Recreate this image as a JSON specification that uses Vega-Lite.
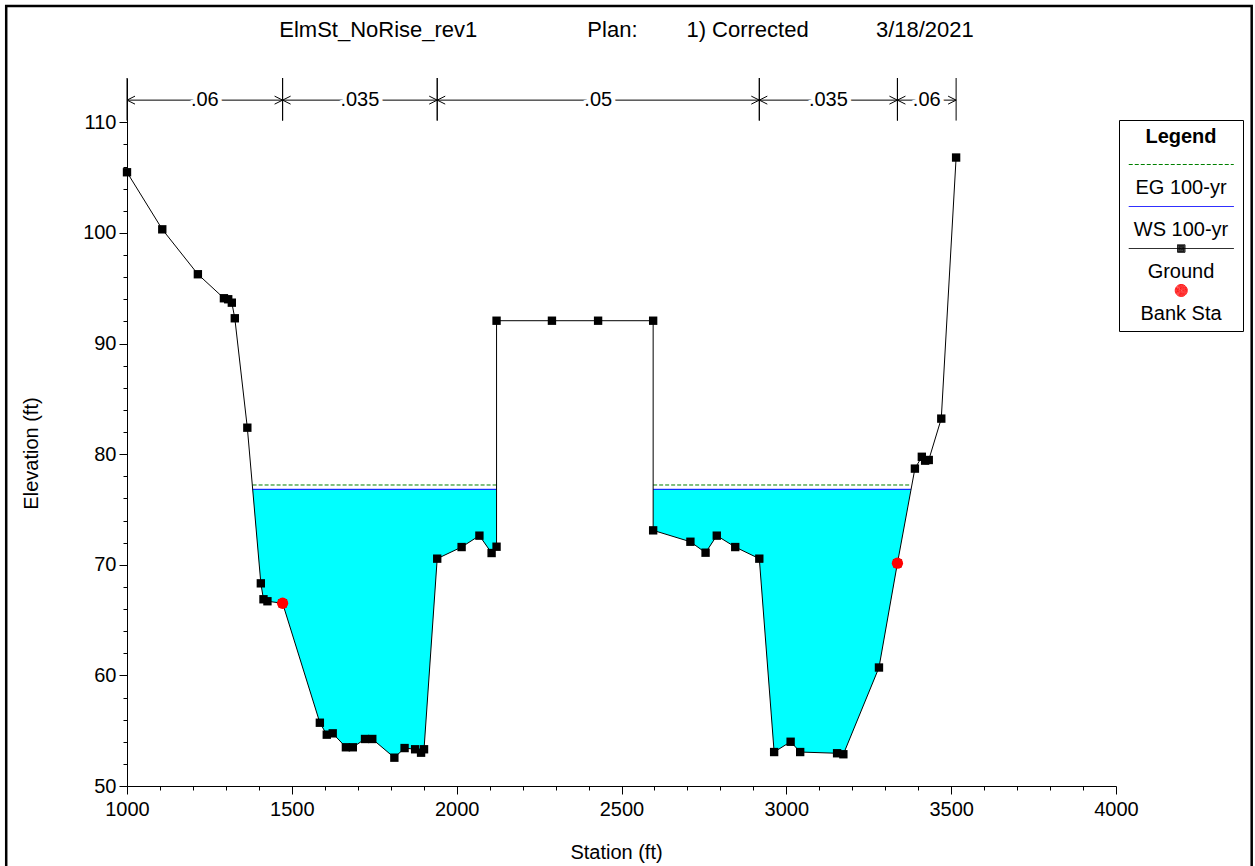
{
  "$schema": "https://vega.github.io/schema/vega-lite/v6.json",
  "width": 989,
  "height": 708,
  "autosize": {"type": "none"},
  "padding": {"left": 127, "top": 78, "right": 139, "bottom": 80},
  "background": "white",
  "title": {
    "text": "ElmSt_NoRise_rev1\u00a0\u00a0\u00a0\u00a0\u00a0\u00a0\u00a0\u00a0\u00a0\u00a0\u00a0\u00a0\u00a0\u00a0\u00a0\u00a0\u00a0\u00a0Plan:\u00a0\u00a0\u00a0\u00a0\u00a0\u00a0\u00a0\u00a01)\u00a0Corrected\u00a0\u00a0\u00a0\u00a0\u00a0\u00a0\u00a0\u00a0\u00a0\u00a0\u00a03/18/2021",
    "font": "Liberation Sans",
    "fontSize": 22,
    "fontWeight": "normal",
    "color": "black",
    "anchor": "middle",
    "frame": "group",
    "offset": -37,
    "dx": 5
  },
  "datasets": {
    "ground": [
      {"station": 1000, "elev": 105.48}, {"station": 1107, "elev": 100.32}, {"station": 1215, "elev": 96.26},
      {"station": 1294, "elev": 94.09}, {"station": 1307, "elev": 94.0}, {"station": 1318, "elev": 93.69},
      {"station": 1327, "elev": 92.28}, {"station": 1365, "elev": 82.39}, {"station": 1406, "elev": 68.32},
      {"station": 1414, "elev": 66.88}, {"station": 1426, "elev": 66.7}, {"station": 1472, "elev": 66.52},
      {"station": 1585, "elev": 55.72}, {"station": 1606, "elev": 54.64}, {"station": 1624, "elev": 54.76},
      {"station": 1664, "elev": 53.5}, {"station": 1685, "elev": 53.5}, {"station": 1722, "elev": 54.25},
      {"station": 1744, "elev": 54.25}, {"station": 1811, "elev": 52.56}, {"station": 1842, "elev": 53.43},
      {"station": 1874, "elev": 53.32}, {"station": 1892, "elev": 53.01}, {"station": 1901, "elev": 53.32},
      {"station": 1941, "elev": 70.55}, {"station": 2015, "elev": 71.6}, {"station": 2069, "elev": 72.63},
      {"station": 2106, "elev": 71.06}, {"station": 2121, "elev": 71.63}, {"station": 2121, "elev": 92.06},
      {"station": 2289, "elev": 92.06}, {"station": 2429, "elev": 92.06}, {"station": 2596, "elev": 92.06},
      {"station": 2596, "elev": 73.11}, {"station": 2709, "elev": 72.08}, {"station": 2755, "elev": 71.09},
      {"station": 2789, "elev": 72.63}, {"station": 2845, "elev": 71.6}, {"station": 2918, "elev": 70.55},
      {"station": 2963, "elev": 53.07}, {"station": 3013, "elev": 54.0}, {"station": 3042, "elev": 53.07},
      {"station": 3154, "elev": 52.96}, {"station": 3173, "elev": 52.87}, {"station": 3281, "elev": 60.71},
      {"station": 3337, "elev": 70.14}, {"station": 3390, "elev": 78.69}, {"station": 3411, "elev": 79.76},
      {"station": 3421, "elev": 79.41}, {"station": 3432, "elev": 79.47}, {"station": 3470, "elev": 83.21},
      {"station": 3515, "elev": 106.81}
    ],
    "water": [
      {"section": "left", "station": 1381, "bed": 76.82}, {"section": "left", "station": 1406, "bed": 68.32},
      {"section": "left", "station": 1414, "bed": 66.88}, {"section": "left", "station": 1426, "bed": 66.7},
      {"section": "left", "station": 1472, "bed": 66.52}, {"section": "left", "station": 1585, "bed": 55.72},
      {"section": "left", "station": 1606, "bed": 54.64}, {"section": "left", "station": 1624, "bed": 54.76},
      {"section": "left", "station": 1664, "bed": 53.5}, {"section": "left", "station": 1685, "bed": 53.5},
      {"section": "left", "station": 1722, "bed": 54.25}, {"section": "left", "station": 1744, "bed": 54.25},
      {"section": "left", "station": 1811, "bed": 52.56}, {"section": "left", "station": 1842, "bed": 53.43},
      {"section": "left", "station": 1874, "bed": 53.32}, {"section": "left", "station": 1892, "bed": 53.01},
      {"section": "left", "station": 1901, "bed": 53.32}, {"section": "left", "station": 1941, "bed": 70.55},
      {"section": "left", "station": 2015, "bed": 71.6}, {"section": "left", "station": 2069, "bed": 72.63},
      {"section": "left", "station": 2106, "bed": 71.06}, {"section": "left", "station": 2121, "bed": 71.63},
      {"section": "right", "station": 2596, "bed": 73.11}, {"section": "right", "station": 2709, "bed": 72.08},
      {"section": "right", "station": 2755, "bed": 71.09}, {"section": "right", "station": 2789, "bed": 72.63},
      {"section": "right", "station": 2845, "bed": 71.6}, {"section": "right", "station": 2918, "bed": 70.55},
      {"section": "right", "station": 2963, "bed": 53.07}, {"section": "right", "station": 3013, "bed": 54.0},
      {"section": "right", "station": 3042, "bed": 53.07}, {"section": "right", "station": 3154, "bed": 52.96},
      {"section": "right", "station": 3173, "bed": 52.87}, {"section": "right", "station": 3281, "bed": 60.71},
      {"section": "right", "station": 3337, "bed": 70.14}, {"section": "right", "station": 3378, "bed": 76.82}
    ],
    "sections": [
      {"section": "left", "start": 1381, "end": 2121},
      {"section": "right", "start": 2596, "end": 3378}
    ],
    "nvalues": [
      {"start": 1000, "end": 1472, "n": ".06"},
      {"start": 1472, "end": 1941, "n": ".035"},
      {"start": 1941, "end": 2918, "n": ".05"},
      {"start": 2918, "end": 3337, "n": ".035"},
      {"start": 3337, "end": 3515, "n": ".06"}
    ],
    "banks": [
      {"series": "Bank Sta", "station": 1472, "elev": 66.52},
      {"series": "Bank Sta", "station": 3337, "elev": 70.14}
    ]
  },
  "layer": [
    {
      "data": {"name": "water"},
      "mark": {"type": "area", "color": "#00ffff", "opacity": 1},
      "encoding": {
        "x": {
          "field": "station", "type": "quantitative",
          "scale": {"domain": [1000, 4000], "nice": false, "zero": false},
          "axis": {
            "title": "Station (ft)",
            "values": [1000,1100,1200,1300,1400,1500,1600,1700,1800,1900,2000,2100,2200,2300,2400,2500,2600,2700,2800,2900,3000,3100,3200,3300,3400,3500,3600,3700,3800,3900,4000],
            "tickCount": 100,
            "format": "d",
            "labelExpr": "datum.value % 500 === 0 ? datum.label : ''",
            "tickSize": {"condition": {"test": "datum.value % 500 === 0", "value": 8}, "value": 4},
            "labelPadding": 5,
            "labelFlush": false,
            "labelOverlap": false,
            "titleX": 489,
            "titleY": 66,
            "titleAlign": "center",
            "titleBaseline": "middle"
          }
        },
        "y": {
          "field": "bed", "type": "quantitative",
          "scale": {"domain": [50, 114], "nice": false, "zero": false},
          "axis": {
            "title": "Elevation (ft)",
            "values": [50,52,54,56,58,60,62,64,66,68,70,72,74,76,78,80,82,84,86,88,90,92,94,96,98,100,102,104,106,108,110],
            "tickCount": 100,
            "format": "d",
            "labelExpr": "datum.value % 10 === 0 ? datum.label : ''",
            "tickSize": {"condition": {"test": "datum.value % 10 === 0", "value": 8}, "value": 4},
            "labelPadding": 3,
            "labelFlush": false,
            "labelOverlap": false,
            "titleX": -96,
            "titleY": 375,
            "titleAlign": "center",
            "titleBaseline": "middle"
          }
        },
        "y2": {"datum": 76.82},
        "detail": {"field": "section"}
      }
    },
    {
      "data": {"values": [{}]},
      "mark": {"type": "rect", "filled": false, "color": "black", "strokeWidth": 2.5},
      "encoding": {
        "x": {"datum": 633.6, "type": "quantitative"},
        "x2": {"datum": 4411.6},
        "y": {"datum": 120.5, "type": "quantitative"},
        "y2": {"datum": 40}
      }
    },
    {
      "data": {"name": "sections"},
      "mark": {"type": "rule", "color": "#008000", "strokeDash": [4, 2], "strokeWidth": 1},
      "encoding": {
        "x": {"field": "start", "type": "quantitative"},
        "x2": {"field": "end"},
        "y": {"datum": 77.21, "type": "quantitative"}
      }
    },
    {
      "data": {"name": "sections"},
      "mark": {"type": "rule", "color": "#0000ff", "strokeWidth": 1},
      "encoding": {
        "x": {"field": "start", "type": "quantitative"},
        "x2": {"field": "end"},
        "y": {"datum": 76.82, "type": "quantitative"}
      }
    },
    {
      "data": {"name": "ground"},
      "mark": {"type": "line", "color": "black", "strokeWidth": 1},
      "encoding": {
        "x": {"field": "station", "type": "quantitative"},
        "y": {"field": "elev", "type": "quantitative"},
        "order": {"value": null}
      }
    },
    {
      "data": {"name": "ground"},
      "mark": {"type": "point", "shape": "square", "size": 70, "filled": true, "color": "black", "opacity": 1},
      "encoding": {
        "x": {"field": "station", "type": "quantitative"},
        "y": {"field": "elev", "type": "quantitative"}
      }
    },
    {
      "data": {"name": "banks"},
      "mark": {"type": "point", "shape": "circle", "size": 127, "filled": true, "color": "#ff0000", "opacity": 1, "strokeWidth": 0},
      "encoding": {
        "x": {"field": "station", "type": "quantitative"},
        "y": {"field": "elev", "type": "quantitative"}
      }
    },
    {
      "data": {"name": "banks"},
      "mark": {"type": "point", "size": 100, "filled": false, "opacity": 0, "strokeWidth": 1},
      "encoding": {
        "x": {"field": "station", "type": "quantitative"},
        "y": {"field": "elev", "type": "quantitative"},
        "color": {
          "field": "series", "type": "nominal",
          "scale": {"domain": ["EG 100-yr", "WS 100-yr", "Ground", "Bank Sta"], "range": ["#008000", "#0000ff", "#000000", "#ff0000"]},
          "legend": {
            "title": "Legend", "orient": "none", "legendX": 992, "legendY": 42, "direction": "vertical",
            "titleFont": "Liberation Sans", "titleFontSize": 20, "titleFontWeight": "bold", "titleColor": "black", "titleAnchor": "middle", "titlePadding": 21,
            "labelFont": "Liberation Sans", "labelFontSize": 20, "labelColor": "black", "labelAlign": "center", "labelBaseline": "top", "labelOffset": -10.25, "labelLimit": 300,
            "symbolSize": 100, "symbolOffset": 45.25, "symbolStrokeWidth": 1, "symbolOpacity": 1,
            "rowPadding": 0, "padding": 7, "strokeColor": "black", "fillColor": "white", "cornerRadius": 0
          }
        },
        "shape": {
          "field": "series", "type": "nominal",
          "scale": {
            "domain": ["EG 100-yr", "WS 100-yr", "Ground", "Bank Sta"],
            "range": [
              "M0,-4M-10.5,-2.7H10.5",
              "M0,-4M-10.5,-2.7H10.5",
              "M0,-4M-10.5,-2.7H10.5M-0.75,-3.45H0.75V-1.95H-0.75ZM-0.6,-3.3H0.6V-2.1H-0.6ZM-0.45,-3.15H0.45V-2.25H-0.45ZM-0.3,-3H0.3V-2.4H-0.3ZM-0.15,-2.85H0.15V-2.55H-0.15Z",
              "M0,-4M1.2,-2.7A1.2,1.2,0,1,1,-1.2,-2.7A1.2,1.2,0,1,1,1.2,-2.7ZM1.05,-2.7A1.05,1.05,0,1,1,-1.05,-2.7A1.05,1.05,0,1,1,1.05,-2.7ZM0.9,-2.7A0.9,0.9,0,1,1,-0.9,-2.7A0.9,0.9,0,1,1,0.9,-2.7ZM0.75,-2.7A0.75,0.75,0,1,1,-0.75,-2.7A0.75,0.75,0,1,1,0.75,-2.7ZM0.6,-2.7A0.6,0.6,0,1,1,-0.6,-2.7A0.6,0.6,0,1,1,0.6,-2.7ZM0.45,-2.7A0.45,0.45,0,1,1,-0.45,-2.7A0.45,0.45,0,1,1,0.45,-2.7ZM0.3,-2.7A0.3,0.3,0,1,1,-0.3,-2.7A0.3,0.3,0,1,1,0.3,-2.7ZM0.15,-2.7A0.15,0.15,0,1,1,-0.15,-2.7A0.15,0.15,0,1,1,0.15,-2.7Z"
            ]
          },
          "legend": {
            "title": "Legend", "orient": "none", "legendX": 992, "legendY": 42, "direction": "vertical",
            "titleFont": "Liberation Sans", "titleFontSize": 20, "titleFontWeight": "bold", "titleColor": "black", "titleAnchor": "middle", "titlePadding": 21,
            "labelFont": "Liberation Sans", "labelFontSize": 20, "labelColor": "black", "labelAlign": "center", "labelBaseline": "top", "labelOffset": -10.25, "labelLimit": 300,
            "symbolSize": 100, "symbolOffset": 45.25, "symbolStrokeWidth": 1, "symbolOpacity": 1,
            "rowPadding": 0, "padding": 7, "strokeColor": "black", "fillColor": "white", "cornerRadius": 0
          }
        },
        "strokeDash": {
          "field": "series", "type": "nominal",
          "scale": {"domain": ["EG 100-yr", "WS 100-yr", "Ground", "Bank Sta"], "range": [[4, 2], [1, 0], [1, 0], [1, 0]]},
          "legend": {
            "title": "Legend", "orient": "none", "legendX": 992, "legendY": 42, "direction": "vertical",
            "titleFont": "Liberation Sans", "titleFontSize": 20, "titleFontWeight": "bold", "titleColor": "black", "titleAnchor": "middle", "titlePadding": 21,
            "labelFont": "Liberation Sans", "labelFontSize": 20, "labelColor": "black", "labelAlign": "center", "labelBaseline": "top", "labelOffset": -10.25, "labelLimit": 300,
            "symbolSize": 100, "symbolOffset": 45.25, "symbolStrokeWidth": 1, "symbolOpacity": 1,
            "rowPadding": 0, "padding": 7, "strokeColor": "black", "fillColor": "white", "cornerRadius": 0
          }
        }
      }
    },
    {
      "data": {"name": "nvalues"},
      "mark": {"type": "rule", "color": "black", "strokeWidth": 1},
      "encoding": {
        "x": {"field": "start", "type": "quantitative"},
        "y": {"datum": 110.15, "type": "quantitative"},
        "y2": {"datum": 114}
      }
    },
    {
      "data": {"name": "nvalues"},
      "mark": {"type": "rule", "color": "black", "strokeWidth": 1},
      "encoding": {
        "x": {"field": "end", "type": "quantitative"},
        "y": {"datum": 110.15, "type": "quantitative"},
        "y2": {"datum": 114}
      }
    },
    {
      "data": {"name": "nvalues"},
      "mark": {"type": "rule", "color": "black", "strokeWidth": 1},
      "encoding": {
        "x": {"field": "start", "type": "quantitative"},
        "x2": {"field": "end"},
        "y": {"datum": 112, "type": "quantitative"}
      }
    },
    {
      "data": {"name": "nvalues"},
      "mark": {"type": "point", "shape": "M1.6,-0.8L0,0L1.6,0.8", "size": 100, "filled": false, "color": "black", "strokeWidth": 1, "opacity": 1},
      "encoding": {
        "x": {"field": "start", "type": "quantitative"},
        "y": {"datum": 112, "type": "quantitative"}
      }
    },
    {
      "data": {"name": "nvalues"},
      "mark": {"type": "point", "shape": "M-1.6,-0.8L0,0L-1.6,0.8", "size": 100, "filled": false, "color": "black", "strokeWidth": 1, "opacity": 1},
      "encoding": {
        "x": {"field": "end", "type": "quantitative"},
        "y": {"datum": 112, "type": "quantitative"}
      }
    },
    {
      "data": {"name": "nvalues"},
      "transform": [{"calculate": "(datum.start + datum.end) / 2", "as": "mid"}],
      "mark": {"type": "text", "font": "Liberation Sans", "fontSize": 20, "align": "center", "baseline": "middle", "fill": "white", "stroke": "white", "strokeWidth": 8, "strokeJoin": "round"},
      "encoding": {
        "x": {"field": "mid", "type": "quantitative"},
        "y": {"datum": 112, "type": "quantitative"},
        "text": {"field": "n"}
      }
    },
    {
      "data": {"name": "nvalues"},
      "transform": [{"calculate": "(datum.start + datum.end) / 2", "as": "mid"}],
      "mark": {"type": "text", "font": "Liberation Sans", "fontSize": 20, "align": "center", "baseline": "middle", "color": "black"},
      "encoding": {
        "x": {"field": "mid", "type": "quantitative"},
        "y": {"datum": 112, "type": "quantitative"},
        "text": {"field": "n"}
      }
    }
  ],
  "config": {
    "view": {"stroke": null},
    "font": "Liberation Sans",
    "axis": {
      "grid": false,
      "domainColor": "black",
      "domainWidth": 1,
      "tickColor": "black",
      "tickWidth": 1,
      "labelFont": "Liberation Sans",
      "labelFontSize": 20,
      "labelColor": "black",
      "titleFont": "Liberation Sans",
      "titleFontSize": 20,
      "titleFontWeight": "normal",
      "titleColor": "black"
    }
  }
}
